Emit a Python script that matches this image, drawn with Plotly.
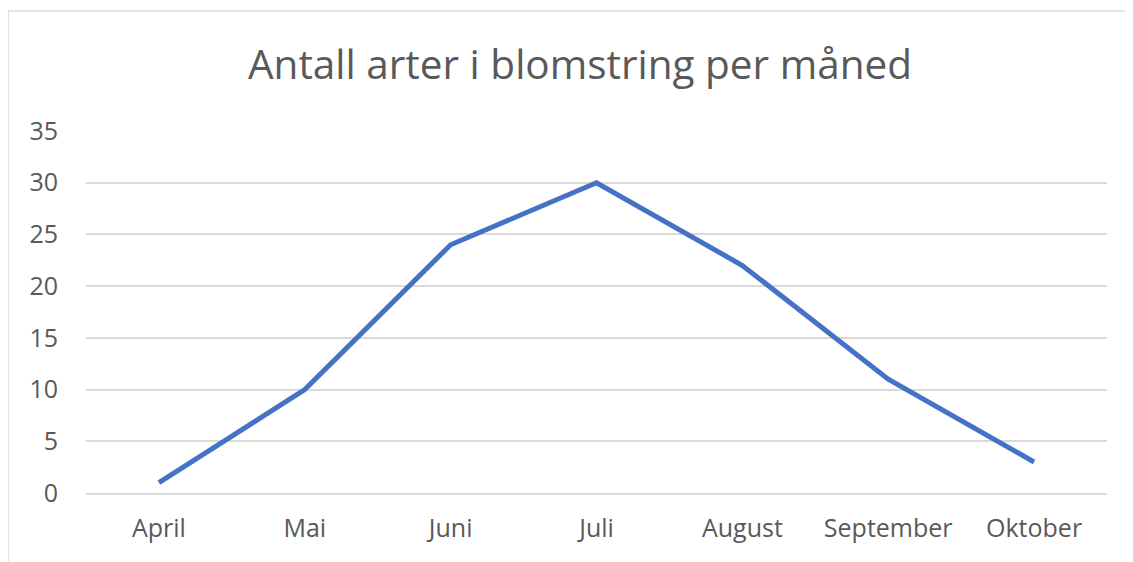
import plotly.graph_objects as go

months = ["April", "Mai", "Juni", "Juli", "August", "September", "Oktober"]
species = [1, 10, 24, 30, 22, 11, 3]
y_ticks = [0, 5, 10, 15, 20, 25, 30, 35]

title_text = "Antall arter i blomstring per måned"

# page body adds an 8px offset; work in figure coordinates
OFF = 8
W, H = 1133 - OFF, 562 - OFF
L, R, T, B = 86 - OFF, 26, 131 - OFF, 562 - 493
pw = W - L - R
ph = H - T - B

fig = go.Figure()
fig.add_trace(go.Scatter(
    x=months, y=species, mode="lines",
    line=dict(color="#4472C4", width=5),
    showlegend=False,
))

fig.update_layout(
    width=W, height=H,
    margin=dict(l=L, r=R, t=T, b=B),
    paper_bgcolor="white", plot_bgcolor="white",
    font=dict(family="Open Sans", color="#595959", size=25),
    title=dict(text=title_text, x=(580 - OFF) / W, xanchor="center", y=1 - (65 - OFF) / H,
               yanchor="middle", font=dict(size=40.5, color="#595959", family="Open Sans")),
    xaxis=dict(type="category", range=[-0.5, 6.5], showgrid=False, showline=True,
               linecolor="#D9D9D9", linewidth=1.5, ticks="", ticklabelstandoff=12,
               tickfont=dict(size=25, color="#595959"), zeroline=False),
    yaxis=dict(range=[0, 35], tickvals=y_ticks, showgrid=True, gridcolor="#D9D9D9",
               gridwidth=1.5, zeroline=False, showline=False, ticks="",
               ticklabelstandoff=27, tickfont=dict(size=25, color="#595959")),
)

# chart frame (decorative border like the spreadsheet chart area)
x0 = (8 - OFF - L) / pw
y1 = (H - B - (11 - OFF)) / ph
fig.add_shape(type="rect", xref="paper", yref="paper",
              x0=x0, x1=(W + 20 - L) / pw, y0=-(B + 20) / ph, y1=y1,
              line=dict(color="#D9D9D9", width=1.5), fillcolor="rgba(0,0,0,0)", layer="below")

fig.write_html("out.html")
